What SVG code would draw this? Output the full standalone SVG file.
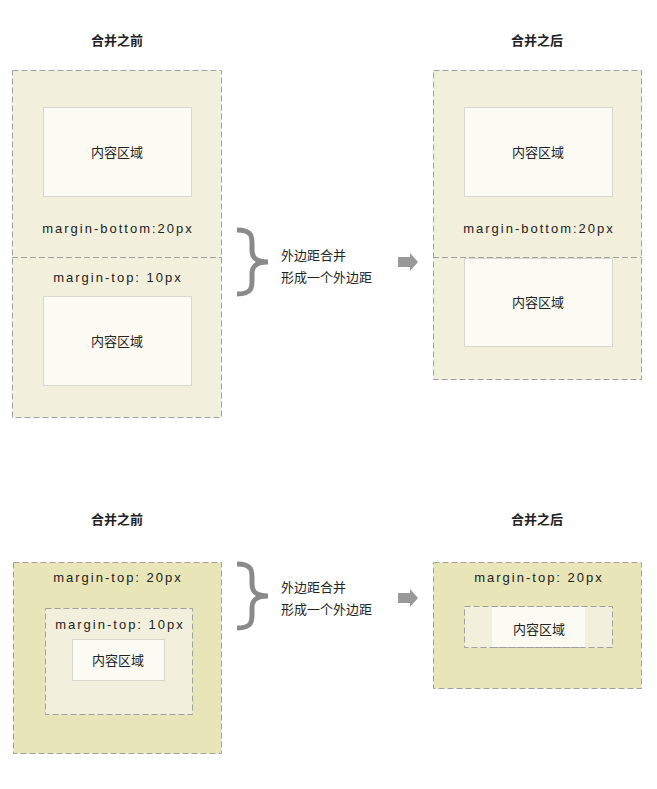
<svg xmlns="http://www.w3.org/2000/svg" width="657" height="789" viewBox="0 0 657 789">
<style>
text{font-family:"Liberation Sans","Noto Sans CJK SC",sans-serif;font-size:13px;fill:#222;text-anchor:middle}
.t{font-weight:bold}
.m{letter-spacing:2px}
.o{fill:#f2f0dc;stroke:#a0a0a0;stroke-dasharray:6,3}
.d{fill:#e8e6b8;stroke:#a0a0a0;stroke-dasharray:6,3}
.c{fill:#fbfbf4;stroke:#d8d8d0}
.l{stroke:#a0a0a0;stroke-dasharray:6,3;fill:none}
.b{fill:none;stroke:#8a8a8a;stroke-width:5}
.s{text-anchor:start}
</style>
<rect width="657" height="789" fill="#fff"/>
<text class="t" x="117" y="45">合并之前</text>
<text class="t" x="537" y="45">合并之后</text>
<text class="t" x="117" y="524">合并之前</text>
<text class="t" x="537" y="524">合并之后</text>
<g id="tl">
<rect class="o" x="12.5" y="70.5" width="209" height="347"/>
<line class="l" x1="12" y1="257.5" x2="222" y2="257.5"/>
<rect class="c" x="43.5" y="107.5" width="148" height="89"/>
<text x="117" y="157">内容区域</text>
<text class="m" x="118" y="233">margin-bottom:20px</text>
<text class="m" x="118" y="282">margin-top: 10px</text>
<rect class="c" x="43.5" y="296.5" width="148" height="89"/>
<text x="117" y="346">内容区域</text>
</g>
<g id="tr">
<rect class="o" x="433.5" y="70.5" width="208" height="309"/>
<rect class="c" x="464.5" y="107.5" width="148" height="89"/>
<text x="538" y="157">内容区域</text>
<text class="m" x="539" y="233">margin-bottom:20px</text>
<rect class="c" x="464.5" y="258.5" width="148" height="88"/>
<line class="l" x1="433" y1="257.5" x2="642" y2="257.5"/>
<text x="538" y="307">内容区域</text>
</g>
<g id="bl">
<rect class="d" x="13.5" y="562.5" width="208" height="191"/>
<text class="m" x="118" y="582">margin-top: 20px</text>
<rect class="o" x="45.5" y="608.5" width="147" height="106"/>
<text class="m" x="120" y="629">margin-top: 10px</text>
<rect class="c" x="72.5" y="639.5" width="92" height="41"/>
<text x="118" y="665">内容区域</text>
</g>
<g id="br">
<rect class="d" x="433.5" y="562.5" width="208" height="126"/>
<text class="m" x="539" y="582">margin-top: 20px</text>
<rect class="o" x="464.5" y="606.5" width="148" height="41"/>
<rect x="492" y="607" width="93" height="40" fill="#fbfbf4"/>
<line class="l" x1="492" y1="606.5" x2="585" y2="606.5"/>
<line class="l" x1="492" y1="647.5" x2="585" y2="647.5"/>
<text x="539" y="634">内容区域</text>
</g>
<g id="connectors">
<path class="b" d="M237,230 C254,230 252,238 252,250 C252,258 256,262 268,262 C256,262 252,266 252,274 C252,286 254,294 237,294"/>
<path class="b" d="M237,564 C254,564 252,572 252,584 C252,592 256,596 268,596 C256,596 252,600 252,608 C252,620 254,628 237,628"/>
<polygon points="398,257 410,257 410,253 418,262 410,271 410,267 398,267" fill="#999"/>
<polygon points="398,593 410,593 410,589 418,598 410,607 410,603 398,603" fill="#999"/>
</g>
<text class="s" x="281" y="260">外边距合并</text>
<text class="s" x="281" y="282">形成一个外边距</text>
<text class="s" x="281" y="592">外边距合并</text>
<text class="s" x="281" y="614">形成一个外边距</text>
</svg>
